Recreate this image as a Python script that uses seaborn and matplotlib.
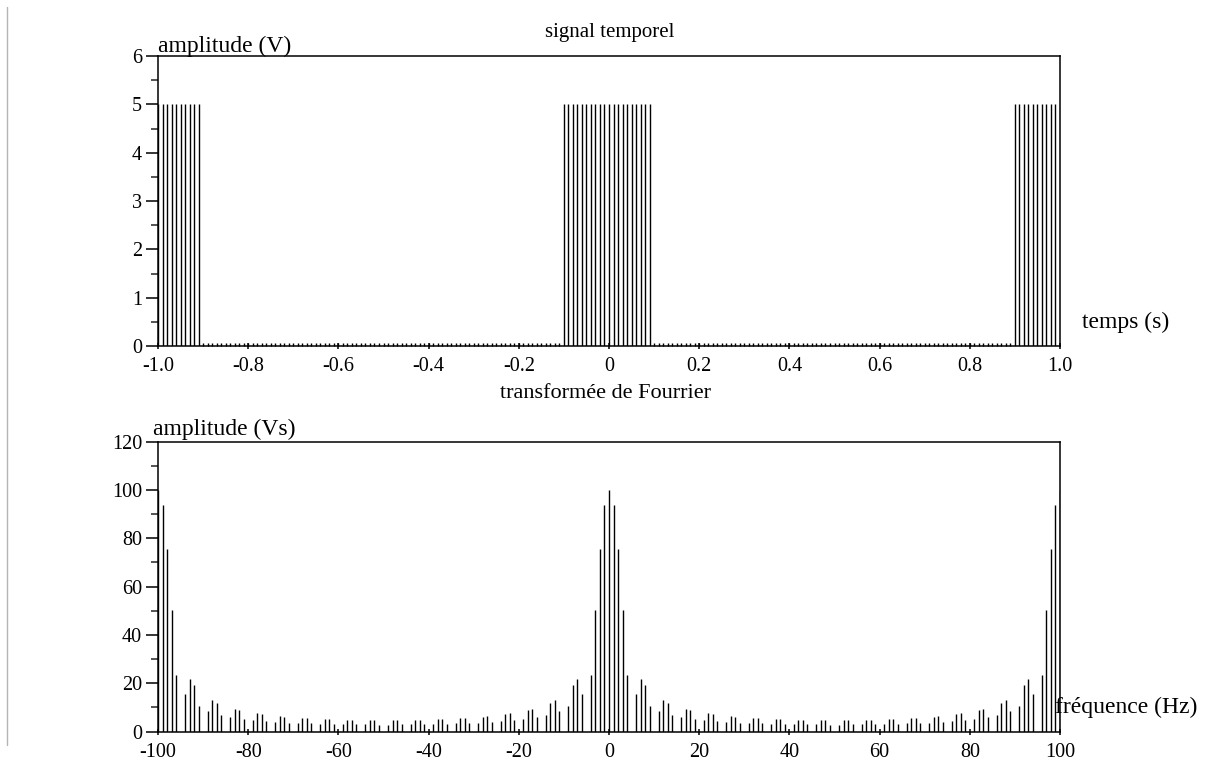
import numpy as np
import pandas as pd
import matplotlib
matplotlib.use("Agg")
import matplotlib.pyplot as plt
from matplotlib.lines import Line2D
from matplotlib.ticker import MultipleLocator, FixedLocator, FixedFormatter
import seaborn as sns

# ---------------- data ----------------
time_s = np.round(np.arange(-100, 100) * 0.01, 2)          # sample instants (s)
signal_v = [5] * 10 + [0] * 80 + [5] * 20 + [0] * 80 + [5] * 10   # amplitude (V)

freq_hz = np.arange(-100, 101)                               # frequencies (Hz)
spectrum_neg = [                                             # f = -100 .. -1
    100.0, 93.6, 75.7, 50.5, 23.4, 0.0, 15.7, 21.8, 19.1, 10.5,
    0.0, 8.7, 12.9, 12.0, 6.9, 0.0, 6.1, 9.3, 8.9, 5.2,
    0.0, 4.8, 7.5, 7.2, 4.3, 0.0, 4.0, 6.3, 6.2, 3.7,
    0.0, 3.6, 5.6, 5.5, 3.4, 0.0, 3.2, 5.2, 5.1, 3.1,
    0.0, 3.1, 4.9, 4.9, 3.0, 0.0, 3.0, 4.8, 4.8, 2.9,
    0.0, 2.9, 4.8, 4.8, 3.0, 0.0, 3.0, 4.9, 4.9, 3.1,
    0.0, 3.1, 5.1, 5.2, 3.2, 0.0, 3.4, 5.5, 5.6, 3.6,
    0.0, 3.7, 6.2, 6.3, 4.0, 0.0, 4.3, 7.2, 7.5, 4.8,
    0.0, 5.2, 8.9, 9.3, 6.1, 0.0, 6.9, 12.0, 12.9, 8.7,
    0.0, 10.5, 19.1, 21.8, 15.7, 0.0, 23.4, 50.5, 75.7, 93.6,
]
spectrum_pos = [                                             # f = 0 .. 100
    100.0, 93.6, 75.7, 50.5, 23.4, 0.0, 15.7, 21.8, 19.1, 10.5,
    0.0, 8.7, 12.9, 12.0, 6.9, 0.0, 6.1, 9.3, 8.9, 5.2,
    0.0, 4.8, 7.5, 7.2, 4.3, 0.0, 4.0, 6.3, 6.2, 3.7,
    0.0, 3.6, 5.6, 5.5, 3.4, 0.0, 3.2, 5.2, 5.1, 3.1,
    0.0, 3.1, 4.9, 4.9, 3.0, 0.0, 3.0, 4.8, 4.8, 2.9,
    0.0, 2.9, 4.8, 4.8, 3.0, 0.0, 3.0, 4.9, 4.9, 3.1,
    0.0, 3.1, 5.1, 5.2, 3.2, 0.0, 3.4, 5.5, 5.6, 3.6,
    0.0, 3.7, 6.2, 6.3, 4.0, 0.0, 4.3, 7.2, 7.5, 4.8,
    0.0, 5.2, 8.9, 9.3, 6.1, 0.0, 6.9, 12.0, 12.9, 8.7,
    0.0, 10.5, 19.1, 21.8, 15.7, 0.0, 23.4, 50.5, 75.7, 93.6,
    100.0,
]
spectrum_vs = spectrum_neg + spectrum_pos

top_xticks = [-1.0, -0.8, -0.6, -0.4, -0.2, 0.0, 0.2, 0.4, 0.6, 0.8, 1.0]
top_xlabels = ["-1.0", "-0.8", "-0.6", "-0.4", "-0.2", "0", "0.2", "0.4", "0.6", "0.8", "1.0"]
top_yticks = [0, 1, 2, 3, 4, 5, 6]
bot_xticks = [-100, -80, -60, -40, -20, 0, 20, 40, 60, 80, 100]
bot_xlabels = ["-100", "-80", "-60", "-40", "-20", "0", "20", "40", "60", "80", "100"]
bot_yticks = [0, 20, 40, 60, 80, 100, 120]

# ---------------- style ----------------
sns.set_theme(style="ticks")
plt.rcParams["font.family"] = ["Liberation Serif", "DejaVu Serif"]
plt.rcParams["axes.linewidth"] = 1.1
plt.rcParams["axes.edgecolor"] = "black"

W, H = 1227, 772
fig = plt.figure(figsize=(W / 100, H / 100), dpi=100)
fig.patch.set_facecolor("white")

def px_rect(left, top, right, bottom):
    return [left / W, 1 - bottom / H, (right - left) / W, (bottom - top) / H]

ax1 = fig.add_axes(px_rect(158, 56, 1060, 346))
ax2 = fig.add_axes(px_rect(158, 441.7, 1060, 731.6))

df_t = pd.DataFrame({"t": time_s, "v": signal_v})
df_f = pd.DataFrame({"f": freq_hz, "a": spectrum_vs})

# top: sampled signal
nz = df_t[df_t["v"] > 0]
ax1.vlines(nz["t"], 0, nz["v"], color="black", lw=1.0)
zz = df_t[df_t["v"] == 0]
ax1.plot(zz["t"], zz["v"], ls="none", marker=2, ms=2.2, mew=1.0, color="black", zorder=3)

# bottom: spectrum
ax2.vlines(df_f["f"], 0, df_f["a"], color="black", lw=1.0)

for ax, xt, xl, yt, xlim, ylim, minor in [
    (ax1, top_xticks, top_xlabels, top_yticks, (-1, 1), (0, 6), 0.5),
    (ax2, bot_xticks, bot_xlabels, bot_yticks, (-100, 100), (0, 120), 10),
]:
    ax.set_facecolor("white")
    ax.set_xlim(*xlim)
    ax.set_ylim(*ylim)
    ax.xaxis.set_major_locator(FixedLocator(xt))
    ax.xaxis.set_major_formatter(FixedFormatter(xl))
    ax.yaxis.set_major_locator(FixedLocator(yt))
    ax.yaxis.set_minor_locator(MultipleLocator(minor))
    ax.tick_params(axis="y", which="major", direction="out", length=8.4, width=1.1,
                   labelsize=14.5, pad=3, colors="black")
    ax.tick_params(axis="y", which="minor", direction="out", length=4.8, width=1.1)
    ax.tick_params(axis="x", which="major", direction="inout", length=4.5, width=1.1,
                   labelsize=14.5, pad=6, colors="black")
    ax.grid(False)
    for s in ax.spines.values():
        s.set_visible(True)
        s.set_color("black")
        s.set_linewidth(1.1)
sns.despine(ax=ax1, top=False, right=False)
sns.despine(ax=ax2, top=False, right=False)

def ftext(x, y, s, **kw):
    fig.text(x / W, 1 - y / H, s, color="black", **kw)

ftext(610, 33, "signal temporel", fontsize=15, ha="center", va="center")
ftext(158, 52, "amplitude (V)", fontsize=17, ha="left", va="baseline")
ftext(1082, 322, "temps (s)", fontsize=17, ha="left", va="center")
ftext(606, 394, "transformée de Fourrier", fontsize=16, ha="center", va="center")
ftext(153, 435, "amplitude (Vs)", fontsize=17, ha="left", va="baseline")
ftext(1055, 707, "fréquence (Hz)", fontsize=17, ha="left", va="center")

fig.add_artist(Line2D([7.3 / W, 7.3 / W], [1 - 7 / H, 1 - 745 / H],
                      color="#b4b4b4", lw=1.0))

fig.savefig("out.png", dpi=100, facecolor="white")
